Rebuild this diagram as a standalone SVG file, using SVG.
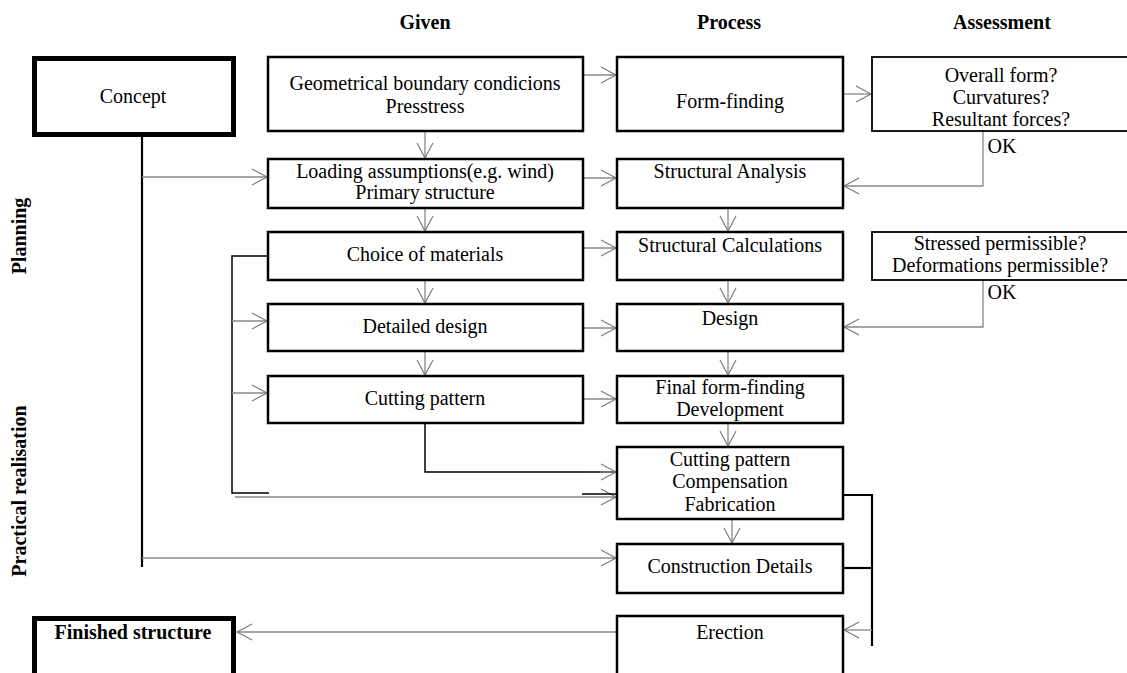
<svg xmlns="http://www.w3.org/2000/svg" width="1127" height="673" viewBox="0 0 1127 673">
<defs>
<style>
text{font-family:"Liberation Serif","Times New Roman",serif;font-size:20px;fill:#000;text-anchor:middle}
.b{font-weight:bold}
.box{fill:#fff;stroke:#000;stroke-width:2.5}
.thin{fill:#fff;stroke:#000;stroke-width:1.8}
.thick{fill:#fff;stroke:#000;stroke-width:5}
.g{fill:none;stroke:#888;stroke-width:1.3}
.k{fill:none;stroke:#000;stroke-width:1.5}
.kk{fill:none;stroke:#000;stroke-width:2.2}
</style>
<marker id="ar" markerUnits="userSpaceOnUse" markerWidth="20" markerHeight="20" viewBox="-16 -10 18 20" refX="0" refY="0" orient="auto" overflow="visible">
<path d="M-15,-8 L0,0 L-15,8" fill="none" stroke="#777" stroke-width="1.1"/>
</marker>
</defs>
<g id="headers">
<text class="b" x="425" y="29">Given</text>
<text class="b" x="729" y="29">Process</text>
<text class="b" x="1002" y="29">Assessment</text>
<text class="b" transform="translate(26,236) rotate(-90)">Planning</text>
<text class="b" transform="translate(26,491) rotate(-90)">Practical realisation</text>
</g>
<g id="connectors">
<line class="kk" x1="142" y1="137" x2="142" y2="567"/>
<line class="g" x1="142" y1="177" x2="267" y2="177" marker-end="url(#ar)"/>
<line class="g" x1="142" y1="558" x2="616" y2="558" marker-end="url(#ar)"/>
<line class="g" x1="583" y1="75" x2="616" y2="75" marker-end="url(#ar)"/>
<line class="g" x1="843" y1="94" x2="871" y2="94" marker-end="url(#ar)"/>
<line class="g" x1="583" y1="178" x2="616" y2="178" marker-end="url(#ar)"/>
<line class="g" x1="583" y1="248" x2="616" y2="248" marker-end="url(#ar)"/>
<line class="g" x1="583" y1="328" x2="616" y2="328" marker-end="url(#ar)"/>
<line class="g" x1="583" y1="399" x2="616" y2="399" marker-end="url(#ar)"/>
<line class="g" x1="425" y1="131" x2="425" y2="158" marker-end="url(#ar)"/>
<line class="g" x1="425" y1="208" x2="425" y2="231" marker-end="url(#ar)"/>
<line class="g" x1="425" y1="280" x2="425" y2="303" marker-end="url(#ar)"/>
<line class="g" x1="425" y1="351" x2="425" y2="375" marker-end="url(#ar)"/>
<line class="g" x1="728" y1="208" x2="728" y2="231" marker-end="url(#ar)"/>
<line class="g" x1="728" y1="280" x2="728" y2="303" marker-end="url(#ar)"/>
<line class="g" x1="728" y1="351" x2="728" y2="375" marker-end="url(#ar)"/>
<line class="g" x1="728" y1="423" x2="728" y2="446" marker-end="url(#ar)"/>
<line class="g" x1="732" y1="519" x2="732" y2="543" marker-end="url(#ar)"/>
<polyline class="g" points="983,131 983,186 844,186" marker-end="url(#ar)"/>
<polyline class="g" points="983,280 983,327 844,327" marker-end="url(#ar)"/>
<polyline class="k" points="268,256 232,256 232,493 269,493"/>
<line class="g" x1="232" y1="321" x2="267" y2="321" marker-end="url(#ar)"/>
<line class="g" x1="232" y1="393" x2="267" y2="393" marker-end="url(#ar)"/>
<line class="g" x1="235" y1="497" x2="616" y2="497" marker-end="url(#ar)"/>
<line class="k" x1="582" y1="494" x2="617" y2="494"/>
<polyline class="k" points="425,423 425,472 582,472"/>
<line class="k" x1="582" y1="472" x2="617" y2="472"/>
<line class="g" x1="600" y1="472" x2="616" y2="472" marker-end="url(#ar)"/>
<polyline class="kk" points="843,495 872,495 872,646"/>
<line class="kk" x1="843" y1="568" x2="872" y2="568"/>
<line class="g" x1="872" y1="630" x2="844" y2="630" marker-end="url(#ar)"/>
<line class="g" x1="617" y1="632" x2="237" y2="632" marker-end="url(#ar)"/>
</g>
<g id="concept">
<rect class="thick" x="34.5" y="58.5" width="199" height="76"/>
<text x="133" y="103">Concept</text>
</g>
<g id="finished">
<rect class="thick" x="34.5" y="618.5" width="199" height="70"/>
<text class="b" x="133" y="639">Finished structure</text>
</g>
<g id="geometrical">
<rect class="box" x="268" y="57" width="315" height="74"/>
<text x="425" y="90">Geometrical boundary condicions</text>
<text x="425" y="113">Presstress</text>
</g>
<g id="loading">
<rect class="box" x="268" y="159" width="315" height="49"/>
<text x="425" y="178">Loading assumptions(e.g. wind)</text>
<text x="425" y="199">Primary structure</text>
</g>
<g id="choice">
<rect class="box" x="268" y="232" width="315" height="48"/>
<text x="425" y="261">Choice of materials</text>
</g>
<g id="detailed">
<rect class="box" x="268" y="304" width="315" height="47"/>
<text x="425" y="333">Detailed design</text>
</g>
<g id="cutting">
<rect class="box" x="268" y="376" width="315" height="47"/>
<text x="425" y="405">Cutting pattern</text>
</g>
<g id="formfinding">
<rect class="box" x="617" y="57" width="226" height="74"/>
<text x="730" y="108">Form-finding</text>
</g>
<g id="analysis">
<rect class="box" x="617" y="159" width="226" height="49"/>
<text x="730" y="178">Structural Analysis</text>
</g>
<g id="calculations">
<rect class="box" x="617" y="232" width="226" height="48"/>
<text x="730" y="252">Structural Calculations</text>
</g>
<g id="design">
<rect class="box" x="617" y="304" width="226" height="47"/>
<text x="730" y="325">Design</text>
</g>
<g id="final">
<rect class="box" x="617" y="376" width="226" height="47"/>
<text x="730" y="394">Final form-finding</text>
<text x="730" y="416">Development</text>
</g>
<g id="fabrication">
<rect class="box" x="617" y="447" width="226" height="72"/>
<text x="730" y="466">Cutting pattern</text>
<text x="730" y="488">Compensation</text>
<text x="730" y="511">Fabrication</text>
</g>
<g id="construction">
<rect class="box" x="617" y="544" width="226" height="49"/>
<text x="730" y="573">Construction Details</text>
</g>
<g id="erection">
<rect class="box" x="617" y="616" width="226" height="70"/>
<text x="730" y="639">Erection</text>
</g>
<g id="overall">
<rect class="thin" x="872" y="57" width="270" height="74"/>
<text x="1001" y="82">Overall form?</text>
<text x="1001" y="104">Curvatures?</text>
<text x="1001" y="126">Resultant forces?</text>
<text x="1002" y="153">OK</text>
</g>
<g id="stressed">
<rect class="thin" x="872" y="232" width="270" height="48"/>
<text x="1000" y="250">Stressed permissible?</text>
<text x="1000" y="272">Deformations permissible?</text>
<text x="1002" y="299">OK</text>
</g>
</svg>
